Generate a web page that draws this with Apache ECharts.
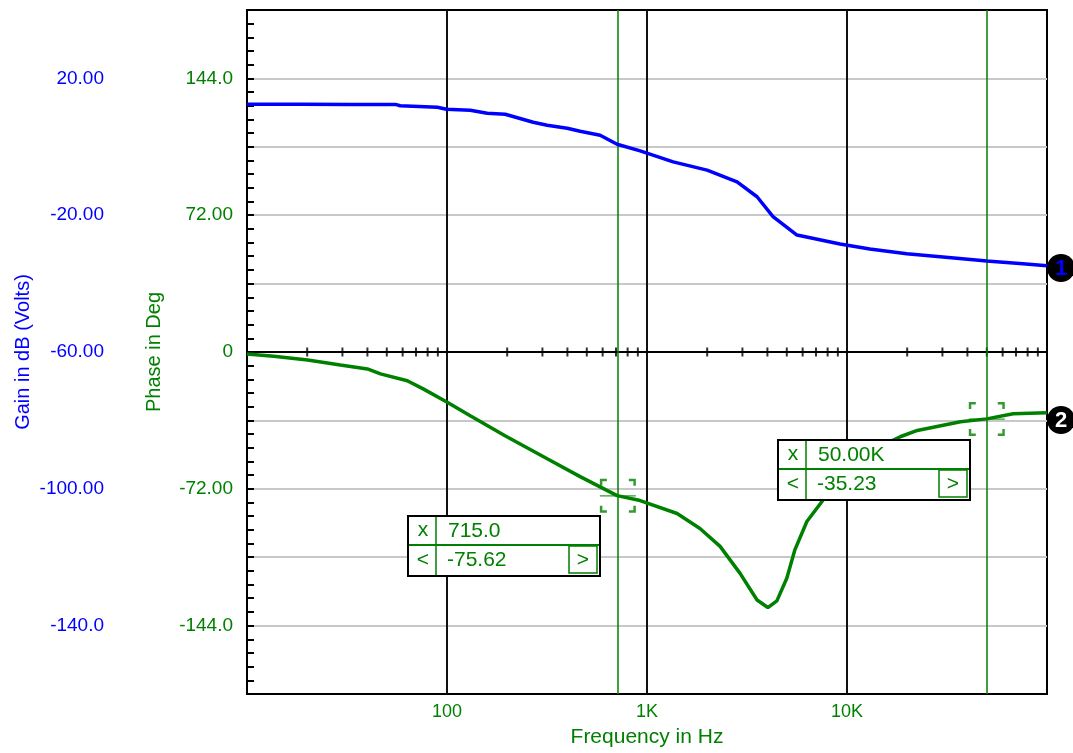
<!DOCTYPE html>
<html>
<head>
<meta charset="utf-8">
<script src="https://cdn.jsdelivr.net/npm/echarts@6/dist/echarts.min.js"></script>
<style>
html,body{margin:0;padding:0;background:#fff;}
#chart{width:1073px;height:753px;}
</style>
</head>
<body>
<div id="chart"></div>
<script>
// ---- data ----
var gainFreq = [10, 18.5, 32.9, 55.2, 58.4, 89.5, 99.3, 130.7, 158.9, 195.4, 269.8, 316.9, 399, 463, 583, 709, 924, 1352, 1997, 2820, 3550, 4266, 5623, 9226, 13000, 19900, 35400, 50000, 75700, 100000];
var gainDb   = [12.42, 12.42, 12.4, 12.4, 12.0, 11.55, 10.96, 10.67, 9.80, 9.51, 7.17, 6.30, 5.42, 4.55, 3.38, 0.76, -1.19, -4.40, -6.82, -10.23, -14.6, -20.4, -25.8, -28.4, -29.9, -31.3, -32.6, -33.4, -34.2, -34.8];

var phaseFreq = [10, 13.6, 20.1, 29.3, 40, 46.5, 63.3, 76, 99.3, 130.7, 195, 317, 463, 709, 924, 1414, 1840, 2320, 2920, 3550, 4020, 4460, 5000, 5480, 6300, 7580, 10350, 13800, 18460, 22460, 36950, 50000, 67700, 100000];
var phaseDeg  = [-1.05, -2.26, -4.2, -6.8, -8.9, -11.5, -15.1, -19.4, -26.2, -33.6, -44.1, -56.2, -65.6, -75.6, -78.2, -85.0, -92.9, -102.3, -116.5, -130.5, -134.5, -131.0, -119.1, -104.3, -89.2, -78.0, -61.4, -50.9, -44.6, -41.3, -36.7, -35.2, -32.5, -32.0];

var cursorFreq  = [715, 50000];
var cursorPhase = [-75.62, -35.23];
var cursorFreqText  = ['715.0', '50.00K'];
var cursorPhaseText = ['-75.62', '-35.23'];

var xTickLabels = {100: '100', 1000: '1K', 10000: '10K'};
var gainTickLabels = {'20': '20.00', '-20': '-20.00', '-60': '-60.00', '-100': '-100.00', '-140': '-140.0'};
var phaseTickLabels = {'144': '144.0', '72': '72.00', '0': '0', '-72': '-72.00', '-144': '-144.0'};

var minorMultipliers = [2, 3, 4, 5, 6, 7, 8, 9];
var decades = [10, 100, 1000, 10000];

// ---- build ----
var BLUE = '#0000ff', GREEN = '#008000', GRAY = '#c8c8c8';
var FONT = "'Liberation Sans', Arial, sans-serif";

function zip(a, b) { return a.map(function (v, i) { return [v, b[i]]; }); }
var centerTicks = [];
decades.forEach(function (d) { minorMultipliers.forEach(function (m) { centerTicks.push([d * m, 0]); }); });

var markerPath = 'path://M0,0H7V2.5H2.5V7H0Z M29,0H36V7H33.5V2.5H29Z M0,27H2.5V31.5H7V34H0Z M36,27V34H29V31.5H33.5V27Z M0,16.5H36V17.7H0Z';

function readout(x, y, w, h, iFreq) {
  var divX = 28, rowH = 29, rbW = 28;
  var els = [
    {type: 'rect', shape: {x: x, y: y, width: w, height: h}, style: {fill: '#fff', stroke: '#000', lineWidth: 2}},
    {type: 'line', shape: {x1: x + divX, y1: y + 1, x2: x + divX, y2: y + h - 1}, style: {stroke: GREEN, lineWidth: 1.5}},
    {type: 'line', shape: {x1: x + 1, y1: y + rowH, x2: x + w - 1, y2: y + rowH}, style: {stroke: GREEN, lineWidth: 2}},
    {type: 'rect', shape: {x: x + w - rbW - 3, y: y + rowH + 1, width: rbW, height: h - rowH - 4}, style: {fill: 'none', stroke: GREEN, lineWidth: 1.5}},
    {type: 'text', style: {x: x + divX / 2 + 1, y: y + rowH / 2, text: 'x', fill: GREEN, font: '21px ' + FONT, align: 'center', verticalAlign: 'middle'}},
    {type: 'text', style: {x: x + divX + 12, y: y + rowH / 2 + 1, text: cursorFreqText[iFreq], fill: GREEN, font: '21px ' + FONT, align: 'left', verticalAlign: 'middle'}},
    {type: 'text', style: {x: x + divX / 2 + 1, y: y + rowH + (h - rowH) / 2, text: '<', fill: GREEN, font: '21px ' + FONT, align: 'center', verticalAlign: 'middle'}},
    {type: 'text', style: {x: x + divX + 11, y: y + rowH + (h - rowH) / 2, text: cursorPhaseText[iFreq], fill: GREEN, font: '21px ' + FONT, align: 'left', verticalAlign: 'middle'}},
    {type: 'text', style: {x: x + w - rbW / 2 - 3, y: y + rowH + (h - rowH) / 2, text: '>', fill: GREEN, font: '21px ' + FONT, align: 'center', verticalAlign: 'middle'}}
  ];
  els.forEach(function (e) { e.z = 100; });
  return els;
}

var graphics = [].concat(
  readout(408, 516, 192, 60, 0),
  readout(778, 440, 192, 60, 1),
  [
    {type: 'circle', z: 100, shape: {cx: 1061, cy: 268, r: 14}, style: {fill: '#000'}},
    {type: 'text', z: 101, style: {x: 1061, y: 269, text: '1', fill: BLUE, font: 'bold 22px ' + FONT, align: 'center', verticalAlign: 'middle'}},
    {type: 'circle', z: 100, shape: {cx: 1061, cy: 420, r: 14}, style: {fill: '#000'}},
    {type: 'text', z: 101, style: {x: 1061, y: 421, text: '2', fill: '#fff', font: 'bold 22px ' + FONT, align: 'center', verticalAlign: 'middle'}}
  ]
);

var chart = echarts.init(document.getElementById('chart'), null, {renderer: 'canvas'});
chart.setOption({
  backgroundColor: '#fff',
  animation: false,
  textStyle: {fontFamily: FONT},
  grid: {left: 247, right: 26, top: 10, bottom: 59, show: true, borderColor: '#000', borderWidth: 2, backgroundColor: 'transparent', containLabel: false},
  xAxis: {
    type: 'log', logBase: 10, min: 10, max: 100000,
    axisLine: {show: false}, axisTick: {show: false},
    splitLine: {show: true, showMinLine: false, showMaxLine: false, lineStyle: {color: '#111', width: 2}},
    axisLabel: {color: GREEN, fontSize: 18, fontFamily: FONT, margin: 9,
      formatter: function (v) { var k = Math.round(v); return xTickLabels[k] || ''; }},
    name: 'Frequency in Hz', nameLocation: 'middle', nameGap: 33, nameMoveOverlap: false,
    nameTextStyle: {color: GREEN, fontSize: 21, fontFamily: FONT}
  },
  yAxis: [
    {
      type: 'value', min: -160, max: 40, interval: 20, position: 'left',
      axisLine: {show: true, lineStyle: {color: '#000', width: 2}},
      axisTick: {show: true, inside: true, length: 7, lineStyle: {color: '#000', width: 2}},
      minorTick: {show: true, splitNumber: 5, length: 7, lineStyle: {color: '#000', width: 2}},
      splitLine: {show: true, showMinLine: false, showMaxLine: false, lineStyle: {color: GRAY, width: 2}},
      axisLabel: {color: BLUE, fontSize: 19, fontFamily: FONT, margin: 143,
        formatter: function (v) { return gainTickLabels[String(Math.round(v))] || ''; }},
      name: 'Gain in dB (Volts)', nameLocation: 'middle', nameGap: 214, nameMoveOverlap: false,
      nameTextStyle: {color: BLUE, fontSize: 20, fontFamily: FONT}
    },
    {
      type: 'value', min: -180, max: 180, interval: 36, position: 'left',
      axisLine: {show: false}, axisTick: {show: false}, splitLine: {show: false},
      axisLabel: {color: GREEN, fontSize: 19, fontFamily: FONT, margin: 14,
        formatter: function (v) { return phaseTickLabels[String(Math.round(v))] || ''; }},
      name: 'Phase in Deg', nameLocation: 'middle', nameGap: 83, nameMoveOverlap: false,
      nameTextStyle: {color: GREEN, fontSize: 20, fontFamily: FONT}
    }
  ],
  series: [
    {
      name: 'Gain', type: 'line', xAxisIndex: 0, yAxisIndex: 0, data: zip(gainFreq, gainDb),
      symbol: 'none', lineStyle: {color: BLUE, width: 3.5}, itemStyle: {color: BLUE}, z: 5, silent: true
    },
    {
      name: 'Phase', type: 'line', xAxisIndex: 0, yAxisIndex: 1, data: zip(phaseFreq, phaseDeg),
      symbol: 'none', lineStyle: {color: GREEN, width: 3.5}, itemStyle: {color: GREEN}, z: 5, silent: true,
      markLine: {
        silent: true, symbol: ['none', 'none'], label: {show: false}, animation: false,
        data: [
          {yAxis: 0, lineStyle: {color: '#000', width: 2, type: 'solid'}},
          {xAxis: cursorFreq[0], lineStyle: {color: GREEN, width: 1.5, type: 'solid'}},
          {xAxis: cursorFreq[1], lineStyle: {color: GREEN, width: 1.5, type: 'solid'}}
        ]
      }
    },
    {
      name: 'centerTicks', type: 'scatter', xAxisIndex: 0, yAxisIndex: 1, data: centerTicks,
      symbol: 'rect', symbolSize: [2, 9], itemStyle: {color: '#000'}, silent: true, z: 4
    },
    {
      name: 'cursors', type: 'scatter', xAxisIndex: 0, yAxisIndex: 1, data: zip(cursorFreq, cursorPhase),
      symbol: markerPath, symbolSize: [36, 34], itemStyle: {color: GREEN}, silent: true, z: 6
    }
  ],
  graphic: graphics
});
</script>
</body>
</html>
